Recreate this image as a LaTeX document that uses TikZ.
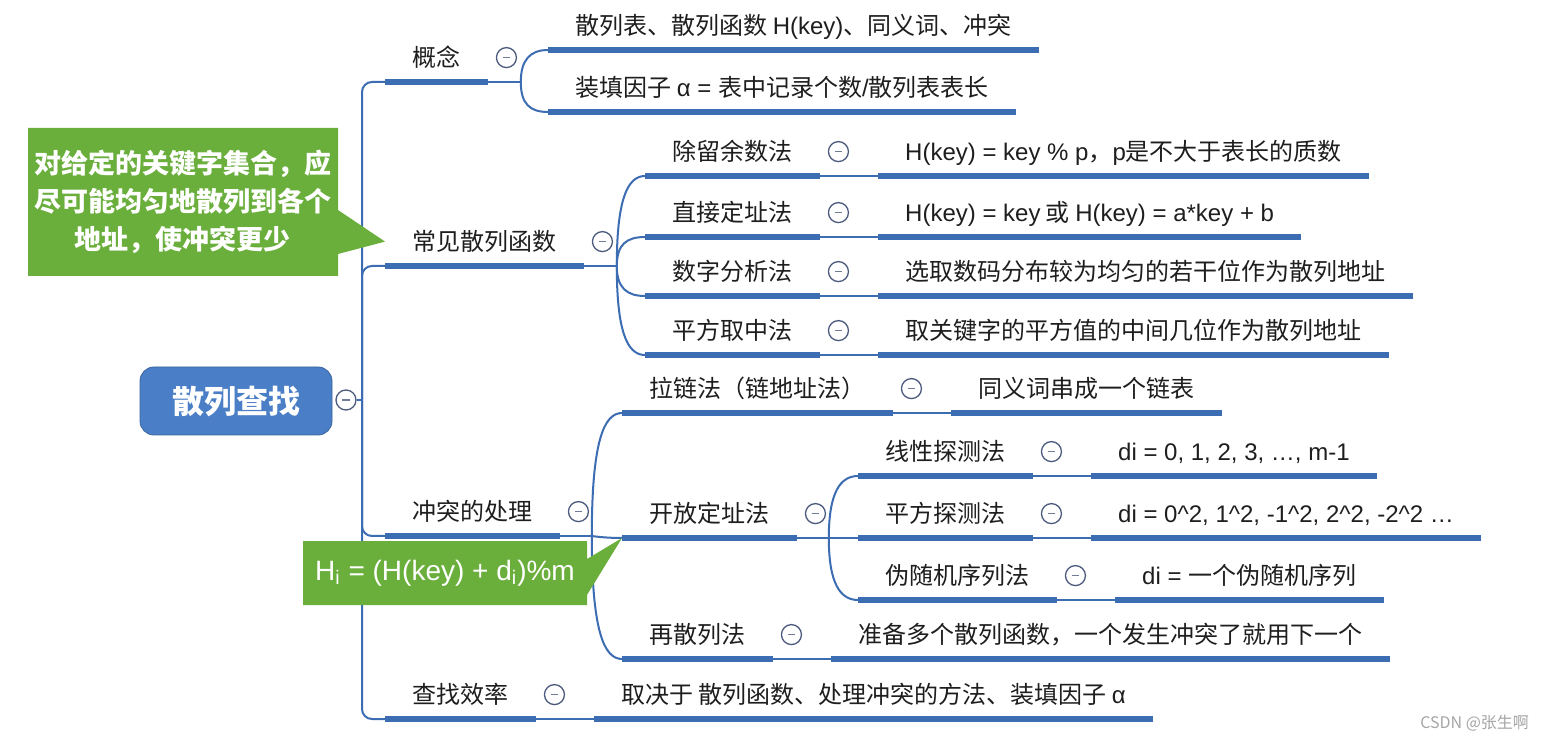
\documentclass[tikz,border=0pt]{standalone}
\usepackage{fontspec}
\usepackage{tikz}
\usetikzlibrary{positioning, shapes.callouts}

\newfontfamily\cjk{Noto Sans CJK SC}
\newfontfamily\lat{Liberation Sans}
\definecolor{lineblue}{RGB}{60,108,178}
\definecolor{rootblue}{RGB}{74,126,198}
\definecolor{tipgreen}{RGB}{106,174,60}
\definecolor{foldgray}{RGB}{76,90,126}
\definecolor{ink}{RGB}{30,30,30}

\begin{document}
\begin{tikzpicture}[x=0.5pt, y=-0.5pt,
    topic/.style={anchor=south west, inner xsep=13.5pt, inner ysep=5.5pt, text height=11pt, text depth=2pt,
        text=ink, font=\cjk\fontsize{12pt}{14pt}\selectfont},
    fold/.style={circle, draw=foldgray, line width=0.65pt, fill=white, minimum size=10pt, inner sep=0pt,
        path picture={\draw[foldgray!80, line width=0.7pt] ([xshift=-1.8pt]path picture bounding box.center) -- ([xshift=1.8pt]path picture bounding box.center);}},
    link/.style={draw=lineblue, line width=1pt},
    uline/.style={draw=lineblue, line width=2.8pt},
    tip/.style={rectangle callout, fill=tipgreen, text=white, inner sep=0pt}]
    \fill[white] (0,0) rectangle (1544,743);
    \useasboundingbox (0,0) rectangle (1544,743);

    % root
    \node[draw=rootblue!80!black, fill=rootblue, rounded corners=7pt, minimum width=96pt, minimum height=34pt,
        text=white, font=\cjk\bfseries\fontsize{16pt}{18pt}\selectfont] (rt) at (236,401) {散列查找};
    \node[fold] (rc) at (346,400) {};
    \coordinate (hub) at (362,400);

    % first level
    \node[topic] (gn) at (385,82) {概念};
    \node[topic] (cj) at (385,266) {常见散列函数};
    \node[topic] (ct) at (385,536) {冲突的处理};
    \node[topic] (xl) at (385,719) {查找效率};

    % 概念
    \node[topic] (g1) at (548,50) {散列表、散列函数 {\lat H(key)}、同义词、冲突};
    \node[topic] (g2) at (548,112) {装填因子 {\lat α = }表中记录个数{\lat /}散列表表长};

    % 常见散列函数
    \node[topic] (f1) at (645,176) {除留余数法};
    \node[topic] (f2) at (645,237) {直接定址法};
    \node[topic] (f3) at (645,296) {数字分析法};
    \node[topic] (f4) at (645,355) {平方取中法};
    \node[topic, right=29pt of f1] (vf1) {{\lat H(key) = key \% p}，{\lat p}是不大于表长的质数};
    \node[topic, right=29pt of f2] (vf2) {{\lat H(key) = key} 或 {\lat H(key) = a*key + b}};
    \node[topic, right=29pt of f3] (vf3) {选取数码分布较为均匀的若干位作为散列地址};
    \node[topic, right=29pt of f4] (vf4) {取关键字的平方值的中间几位作为散列地址};

    % 冲突的处理
    \node[topic] (h1) at (622,413) {拉链法（链地址法）};
    \node[topic] (h2) at (622,538) {开放定址法};
    \node[topic] (h3) at (622,659) {再散列法};
    \node[topic, right=29pt of h1] (vh1) {同义词串成一个链表};
    \node[topic, right=29pt of h3] (vh3) {准备多个散列函数，一个发生冲突了就用下一个};

    \node[topic] (k1) at (858,476) {线性探测法};
    \node[topic] (k2) at (858,538) {平方探测法};
    \node[topic] (k3) at (858,600) {伪随机序列法};
    \node[topic, right=29pt of k1] (vk1) {\lat di = 0, 1, 2, 3, …, m-1};
    \node[topic, right=29pt of k2] (vk2) {\lat di = 0\textasciicircum{}2, 1\textasciicircum{}2, -1\textasciicircum{}2, 2\textasciicircum{}2, -2\textasciicircum{}2 …};
    \node[topic, right=29pt of k3] (vk3) {{\lat di = }一个伪随机序列};

    % 查找效率
    \node[topic, right=29pt of xl] (vxl) {取决于 散列函数、处理冲突的方法、装填因子 {\lat α}};

    % links
    \draw[link] (rc.east) -- (hub);
    \foreach \c in {gn, cj, ct, xl}
        \draw[link, rounded corners=5pt] (hub) |- (\c.south west);

    \draw[link] (gn.south east) -- ++(33,0) coordinate (gnh);
    \foreach \c/\d in {g1/-22, g2/22}
        \draw[link] (gnh) .. controls +(0,\d) and +(-18,0) .. (\c.south west);

    \draw[link] (cj.south east) -- ++(33,0) coordinate (cjh);
    \foreach \c/\d in {f1/-65, f2/-22, f3/22, f4/65}
        \draw[link] (cjh) .. controls +(0,\d) and +(-18,0) .. (\c.south west);

    \draw[link] (ct.south east) -- ++(32,0) coordinate (cth);
    \foreach \c/\d in {h1/-95, h2/0, h3/95}
        \draw[link] (cth) .. controls +(0,\d) and +(-18,0) .. (\c.south west);

    \draw[link] (h2.south east) -- ++(32,0) coordinate (h2h);
    \foreach \c/\d in {k1/-45, k2/0, k3/45}
        \draw[link] (h2h) .. controls +(0,\d) and +(-18,0) .. (\c.south west);

    \foreach \n in {f1, f2, f3, f4, h1, h3, k1, k2, k3, xl}
        \draw[link] (\n.south east) -- (v\n.south west);

    % underlines
    \foreach \n in {gn, cj, ct, xl, g1, g2, f1, f2, f3, f4, vf1, vf2, vf3, vf4,
                    h1, h2, h3, vh1, vh3, k1, k2, k3, vk1, vk2, vk3, vxl}
        \draw[uline] (\n.south west) -- (\n.south east);

    % fold marks
    \foreach \n in {gn, cj, ct, xl, f1, f2, f3, f4, h1, h2, h3, k1, k2, k3}
        \node[fold, right=4pt of \n] (fold-\n) {};

    % callouts
    \node[tip, minimum width=155pt, minimum height=74pt, align=center, callout pointer width=22pt,
        callout absolute pointer={(cj.west)}, font=\cjk\bfseries\fontsize{13.5pt}{19pt}\selectfont]
        (t1) at (183,202) {对给定的关键字集合，应\\尽可能均匀地散列到各个\\地址，使冲突更少};
    \node[tip, minimum width=142pt, minimum height=32pt, callout pointer width=18pt,
        callout absolute pointer={(h2.south west)}, font=\lat\fontsize{14pt}{16pt}\selectfont]
        (t2) at (445,573) {H\textsubscript{i} = (H(key) + d\textsubscript{i})\%m};

    \node[anchor=east, text=black!35, font=\cjk\fontsize{8pt}{9pt}\selectfont] (wm) at (1536,723) {CSDN @张生啊};
\end{tikzpicture}
\end{document}
